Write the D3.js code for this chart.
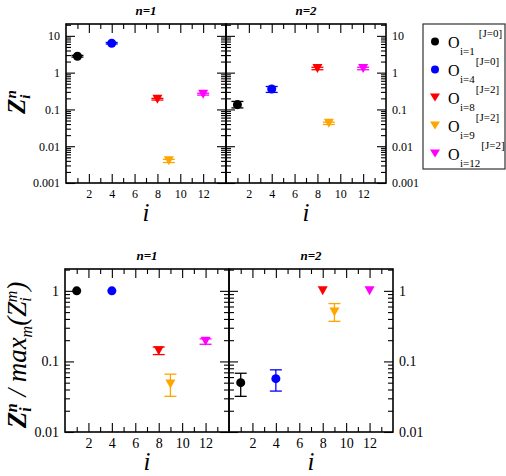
<!DOCTYPE html>
<html>
<head>
<meta charset="utf-8">
<title>Z_i^n</title>
<script type="text/javascript" src="https://cdn.jsdelivr.net/npm/d3@7"></script>
</head>
<body style="margin:0; background:#fff;">
<svg id="chart" width="506" height="476"></svg>
<script>
// operators
var ops = [1, 4, 8, 9, 12];
var opColors = ["#000000", "#0000ff", "#ff0000", "#ffa500", "#ff00ff"];
var opShapes = ["circle", "circle", "tri", "tri", "tri"];
var opJ = ["[J=0]", "[J=0]", "[J=2]", "[J=2]", "[J=2]"];

// Z_i^n (top row)
var zN1 = [2.8, 6.3, 0.19, 0.004, 0.26];
var zN1Lo = [2.65, 6.0, 0.18, 0.0036, 0.245];
var zN1Hi = [2.95, 6.6, 0.20, 0.0044, 0.275];
var zN2 = [0.135, 0.36, 1.3, 0.042, 1.3];
var zN2Lo = [0.11, 0.29, 1.2, 0.039, 1.2];
var zN2Hi = [0.165, 0.42, 1.4, 0.045, 1.4];

// Z_i^n / max_m Z_i^m (bottom row)
var rN1 = [1, 1, 0.142, 0.048, 0.193];
var rN1Lo = [1, 1, 0.125, 0.032, 0.175];
var rN1Hi = [1, 1, 0.16, 0.066, 0.209];
var rN2 = [0.05, 0.057, 1, 0.5, 1];
var rN2Lo = [0.032, 0.038, 1, 0.37, 1];
var rN2Hi = [0.068, 0.076, 1, 0.66, 1];

var topTicks = [0.001, 0.01, 0.1, 1, 10];
var botTicks = [0.01, 0.1, 1];
var xLabels = [2, 4, 6, 8, 10, 12];

var FONT = "Liberation Serif";
var svg = d3.select("#chart");

function isDecade(v) {
	var l = Math.log10(v);
	return Math.abs(l - Math.round(l)) < 1e-6;
}

function fmt(v) {
	return v >= 1 ? d3.format("d")(v) : String(+v.toPrecision(1));
}

function panel(x0, x1, y0, y1, yDom, labTicks, fs, vals, lo, hi, title, side) {
	var g = svg.append("g");
	var x = d3.scaleLinear().domain([0, 14]).range([x0, x1]);
	var y = d3.scaleLog().domain(yDom).range([y1, y0]);
	var yt = y.ticks().filter(function(v){ return v > yDom[0]*0.999 && v < yDom[1]; });
	var xt = d3.range(1, 14);

	// frame
	g.append("rect").attr("x", x0).attr("y", y0).attr("width", x1 - x0).attr("height", y1 - y0)
		.attr("fill", "none").attr("stroke", "#000").attr("stroke-width", 1.6);

	function ticksY(axisFn, pos, showLab) {
		var a = g.append("g").attr("transform", "translate(" + pos + ",0)")
			.call(axisFn(y).tickValues(yt).tickSize(-5).tickPadding(6)
				.tickFormat(function(v){ return showLab && labTicks.indexOf(v) >= 0 ? fmt(v) : ""; }));
		a.select(".domain").remove();
		a.selectAll(".tick line").attr("stroke-width", 1.1)
			.filter(function(v){ return isDecade(v); })
			.attr("x2", axisFn === d3.axisLeft ? 9 : -9);
		a.selectAll(".tick text").attr("font-size", fs).attr("fill", "#000");
	}
	ticksY(d3.axisLeft, x0, side === "left");
	ticksY(d3.axisRight, x1, side === "right");

	function ticksX(axisFn, pos, showLab) {
		var a = g.append("g").attr("transform", "translate(0," + pos + ")")
			.call(axisFn(x).tickValues(xt).tickSize(-5).tickPadding(6)
				.tickFormat(function(v){ return showLab && xLabels.indexOf(v) >= 0 ? v : ""; }));
		a.select(".domain").remove();
		a.selectAll(".tick line").attr("stroke-width", 1.1)
			.filter(function(v){ return v % 2 === 0; })
			.attr("y2", axisFn === d3.axisBottom ? -9 : 9);
		a.selectAll(".tick text").attr("font-size", fs).attr("fill", "#000");
	}
	ticksX(d3.axisBottom, y1, true);
	ticksX(d3.axisTop, y0, false);

	// error bars
	var eb = g.selectAll(".eb").data(ops).enter().append("g")
		.attr("stroke", function(d, k){ return opColors[k]; }).attr("stroke-width", 1.3)
		.filter(function(d, k){ return lo[k] !== hi[k]; });
	eb.append("line").attr("x1", function(d){ return x(d); }).attr("x2", function(d){ return x(d); })
		.attr("y1", function(d){ return y(lo[ops.indexOf(d)]); })
		.attr("y2", function(d){ return y(hi[ops.indexOf(d)]); });
	[lo, hi].forEach(function(arr) {
		eb.append("line").attr("x1", function(d){ return x(d) - 6; }).attr("x2", function(d){ return x(d) + 6; })
			.attr("y1", function(d){ return y(arr[ops.indexOf(d)]); })
			.attr("y2", function(d){ return y(arr[ops.indexOf(d)]); });
	});

	// markers
	g.selectAll(".mk").data(ops).enter().append("path")
		.attr("d", function(d, k){ return marker(opShapes[k]); })
		.attr("fill", function(d, k){ return opColors[k]; })
		.attr("transform", function(d, k){ return "translate(" + x(d) + "," + y(vals[k]) + ")"; });

	// title
	g.append("text").attr("x", (x0 + x1) / 2).attr("y", y0 - 9).attr("text-anchor", "middle")
		.attr("font-size", 13).attr("font-weight", "bold").attr("font-style", "italic").text(title);
	// x label
	g.append("text").attr("x", (x0 + x1) / 2).attr("y", y1 + 38).attr("text-anchor", "middle")
		.attr("font-size", 25).attr("font-style", "italic").text("i");
}

function marker(s) {
	if (s === "circle") return d3.symbol().type(d3.symbolCircle).size(64)();
	return "M-5,-4.5L5,-4.5L0,4.5Z";
}

// top row
panel(66, 226, 24, 183, [0.001, 21], topTicks, 12, zN1, zN1Lo, zN1Hi, "n=1", "left");
panel(226, 386, 24, 183, [0.001, 21], topTicks, 12, zN2, zN2Lo, zN2Hi, "n=2", "right");
// bottom row
panel(65, 229, 269, 432, [0.01, 2.04], botTicks, 14, rN1, rN1Lo, rN1Hi, "n=1", "left");
panel(229, 393, 269, 432, [0.01, 2.04], botTicks, 14, rN2, rN2Lo, rN2Hi, "n=2", "right");

// y labels
var yl1 = svg.append("text").attr("transform", "translate(25,102) rotate(-90)")
	.attr("text-anchor", "middle").attr("font-weight", "bold").attr("font-style", "italic").attr("font-size", 25);
yl1.append("tspan").text("Z");
yl1.append("tspan").attr("font-size", 15).attr("dy", 5).text("i");
yl1.append("tspan").attr("font-size", 15).attr("dx", -4).attr("dy", -14).text("n");

var yl2 = svg.append("text").attr("transform", "translate(26,355) rotate(-90)")
	.attr("text-anchor", "middle").attr("font-weight", "bold").attr("font-style", "italic").attr("font-size", 27);
yl2.append("tspan").text("Z");
yl2.append("tspan").attr("font-size", 16).attr("dy", 5).text("i");
yl2.append("tspan").attr("font-size", 16).attr("dx", -5).attr("dy", -14).text("n");
yl2.append("tspan").attr("dy", 9).attr("font-weight", "normal").text(" / max");
yl2.append("tspan").attr("font-size", 16).attr("font-weight", "normal").attr("dy", 6).text("m");
yl2.append("tspan").attr("font-weight", "normal").attr("dy", -6).text("(Z");
yl2.append("tspan").attr("font-size", 16).attr("font-weight", "normal").attr("dy", 5).text("i");
yl2.append("tspan").attr("font-size", 16).attr("font-weight", "normal").attr("dx", -5).attr("dy", -14).text("m");
yl2.append("tspan").attr("font-weight", "normal").attr("dy", 9).text(")");

// legend
var leg = svg.append("g");
leg.append("rect").attr("x", 423).attr("y", 24).attr("width", 82).attr("height", 145)
	.attr("fill", "#fff").attr("stroke", "#333").attr("stroke-width", 1.2);
var le = leg.selectAll(".le").data(ops).enter().append("g")
	.attr("transform", function(d, k){ return "translate(0," + (41.5 + k * 28) + ")"; });
le.append("path").attr("d", function(d, k){ return opShapes[k] === "circle" ? d3.symbol().type(d3.symbolCircle).size(50)() : "M-5,-4L5,-4L0,4Z"; })
	.attr("transform", "translate(435,0)").attr("fill", function(d, k){ return opColors[k]; });
var lt = le.append("text").attr("x", 448).attr("y", 6).attr("font-size", 16);
lt.append("tspan").text("O");
lt.append("tspan").attr("x", 460).attr("font-size", 11).attr("dy", 7).text(function(d){ return "i=" + d; });
lt.append("tspan").attr("font-size", 11).attr("dx", function(d, k){ return k === 0 ? 4 : 1; }).attr("dy", -18).text(function(d, k){ return opJ[k]; });

// serif everywhere
svg.selectAll("text").attr("font-family", FONT);
svg.selectAll("g").attr("font-family", FONT);
</script>
</body>
</html>
